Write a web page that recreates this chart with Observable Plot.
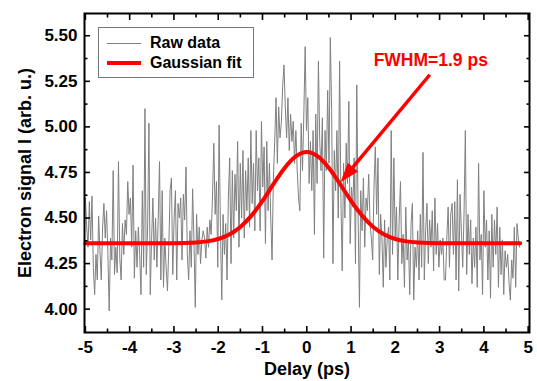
<!DOCTYPE html>
<html>
<head>
<meta charset="utf-8">
<script src="https://cdn.jsdelivr.net/npm/d3@7"></script>
<script src="https://cdn.jsdelivr.net/npm/@observablehq/plot@0.6"></script>
<style>
  html, body { margin: 0; padding: 0; background: #fff; }
  #chart { position: relative; width: 537px; height: 381px; font-family: "Liberation Sans", Arial, sans-serif; }
  #legend { position: absolute; left: 98px; top: 27px; width: 156px; height: 51px; border: 1px solid #777; box-sizing: border-box; background: #fff; }
  #legend .sw { position: absolute; left: 8px; width: 34px; }
  #legend .lb { position: absolute; left: 51px; font-size: 16px; font-weight: bold; line-height: 18px; color: #000; white-space: nowrap; }
</style>
</head>
<body>
<div id="chart"></div>
<script>
// ---- data ----
const xLabel = "Delay (ps)";
const yLabel = "Electron signal I (arb. u.)";
const seriesNames = ["Raw data", "Gaussian fit"];
const xMajorTicks = [-5, -4, -3, -2, -1, 0, 1, 2, 3, 4, 5];
const xMinorTicks = [-4.5, -3.5, -2.5, -1.5, -0.5, 0.5, 1.5, 2.5, 3.5, 4.5];
const yMajorTicks = [4.00, 4.25, 4.50, 4.75, 5.00, 5.25, 5.50];
const yMinorTicks = [4.125, 4.375, 4.625, 4.875, 5.125, 5.375];

// raw scan: first delay and delay step of the measurement grid
const rawDelayStart = -5.0;
const rawDelayStep = 0.0299;
const rawSignal = [
  4.61, 4.45, 4.34, 4.59, 4.38, 4.62, 4.23, 4.08, 4.30, 4.16, 4.51, 4.32, 4.16, 4.45, 4.58, 4.39, 4.54, 4.30, 3.99, 4.39,
  4.27, 4.76, 4.19, 4.34, 4.20, 4.81, 4.28, 4.16, 4.47, 4.30, 4.49, 4.41, 4.70, 4.52, 4.61, 4.34, 4.79, 4.17, 4.43, 4.23,
  4.45, 4.30, 4.08, 4.65, 4.23, 5.10, 4.19, 4.45, 5.02, 4.08, 4.38, 4.61, 4.27, 4.50,
  4.23, 4.49, 4.81, 4.16, 4.65, 4.12, 4.39, 4.23, 4.10, 4.34, 4.65, 4.72, 4.19, 4.49, 4.65, 4.16, 4.58, 4.50, 4.61, 4.27,
  4.63, 4.49, 4.78, 4.30, 4.16, 4.43, 4.23, 4.66, 4.38, 4.01, 4.52, 4.30, 4.45, 4.25, 4.38, 4.43, 4.39, 4.28, 4.45, 4.34,
  4.49, 4.41, 4.61, 4.91, 4.52, 4.70, 4.23, 5.01, 4.45, 4.05, 4.52, 4.30, 4.47, 4.16, 4.61,
  4.83, 4.25, 4.76, 4.39, 4.74, 4.54, 4.92, 4.34, 4.80, 4.50, 4.87, 4.39, 4.76, 4.54, 4.83, 4.45, 4.98, 4.58, 4.80, 4.43,
  4.98, 4.65, 4.83, 4.43, 5.03, 4.67, 4.89, 4.36, 4.92, 4.54, 4.80, 4.50, 4.27, 4.72, 4.92, 5.16, 4.80, 5.11, 4.94, 5.02,
  5.22, 5.34, 5.11, 4.94, 5.16, 4.87, 5.07, 4.92, 5.03, 4.80, 4.98, 4.76, 4.61,
  4.54, 5.02, 4.76, 5.07, 5.44, 4.98, 5.16, 4.69, 4.92, 4.65, 4.98, 4.41, 5.07, 4.69, 5.36, 4.92, 4.76, 5.05, 4.28, 4.98,
  4.76, 5.20, 4.80, 5.49, 5.09, 4.25, 4.87, 4.65, 4.98, 4.50, 5.36, 4.61, 4.21, 4.80, 4.50, 4.91, 4.69, 5.14, 4.36, 4.67,
  4.56, 4.83, 4.25, 5.23, 4.50, 4.01, 4.65, 4.43, 4.72, 4.34, 4.61, 4.54, 4.74, 4.47, 4.39,
  4.27, 4.67, 4.89, 4.52, 4.83, 4.19, 4.52, 4.39, 4.12, 4.49, 4.23, 4.39, 4.45, 4.16, 4.98, 4.30, 4.83, 4.39, 4.56, 4.16,
  4.49, 4.70, 4.25, 4.41, 4.12, 4.56, 4.27, 4.38, 4.08, 4.47, 4.58, 4.05, 4.34, 4.23, 4.43, 4.16, 4.52, 4.23, 4.86, 4.16,
  4.43, 4.58, 4.25, 4.49, 4.34, 4.54, 4.21, 4.61, 4.30, 4.47, 4.23, 4.38, 4.30, 4.39, 4.16,
  4.16, 4.39, 4.56, 4.23, 4.52, 4.58, 4.30, 4.59, 4.16, 4.71, 4.10, 4.63, 4.43, 4.23, 4.52, 4.98, 4.19, 4.52, 4.30, 4.49,
  4.14, 4.39, 4.23, 4.45, 4.12, 4.80, 4.27, 4.41, 4.08, 4.65, 4.34, 4.49, 4.16, 4.43, 4.06, 4.52, 4.23, 4.49, 4.30, 4.56,
  4.12, 4.45, 4.19, 4.38, 4.08, 4.32, 4.23, 4.30, 4.14, 4.05, 4.27, 4.17, 4.45, 4.12, 4.47, 4.39, 4.34
];

// Gaussian fit curve, read at sample delays
const fitDelay  = [-5, -4, -3, -2.5, -2.25, -2, -1.75, -1.5, -1.25, -1, -0.75, -0.5, -0.25, 0, 0.25, 0.5, 0.75, 1, 1.25, 1.5, 1.75, 2, 2.25, 2.5, 3, 4, 4.82];
const fitSignal = [4.362, 4.362, 4.362, 4.366, 4.372, 4.385, 4.410, 4.451, 4.513, 4.594, 4.687, 4.775, 4.838, 4.862, 4.838, 4.775, 4.687, 4.594, 4.513, 4.451, 4.410, 4.385, 4.372, 4.366, 4.362, 4.362, 4.362];

// annotation
const noteText = ["FWHM=1.9 ps"];
const noteAt = [2.80, 5.363];
const arrowFrom = [2.778, 5.286];
const arrowTo = [0.84, 4.72];

// ---- build tables ----
const raw = rawSignal.map((v, i) => ({delay: rawDelayStart + i * rawDelayStep, signal: v}));
const fit = fitDelay.map((d, i) => ({delay: d, signal: fitSignal[i]}));

const FONT = "Liberation Sans, Arial, sans-serif";
const noText = () => "";

const plot = Plot.plot({
  width: 537,
  height: 381,
  marginLeft: 84,
  marginRight: 8,
  marginTop: 13,
  marginBottom: 49,
  style: {fontFamily: FONT, fontSize: "17px", fontWeight: "bold", color: "#000", background: "#fff", overflow: "visible"},
  x: {domain: [-5.02, 5.03]},
  y: {domain: [3.872, 5.622]},
  marks: [
    Plot.line(raw, {x: "delay", y: "signal", stroke: "#808080", strokeWidth: 1}),
    Plot.line(fit, {x: "delay", y: "signal", stroke: "#ff0000", strokeWidth: 4, curve: "monotone-x"}),
    Plot.link([0], {x1: () => arrowFrom[0], y1: () => arrowFrom[1], x2: () => arrowTo[0], y2: () => arrowTo[1], stroke: "#ff0000", strokeWidth: 3.5, className: "fwhm-arrow"}),
    Plot.text(noteText, {x: () => noteAt[0], y: () => noteAt[1], text: d => d, fill: "#ff0000", fontSize: 17.5, fontWeight: "bold", fontFamily: FONT}),
    Plot.frame({stroke: "#000", strokeWidth: 2}),
    // tick labels
    Plot.axisX({ticks: xMajorTicks, tickSize: 0, tickPadding: 8, tickFormat: d => String(d), label: null, fontSize: 17, fontWeight: "bold"}),
    Plot.axisY({ticks: yMajorTicks, tickSize: 0, tickPadding: 7, tickFormat: d3.format(".2f"), label: null, fontSize: 17, fontWeight: "bold"}),
    // inward ticks on all four sides
    Plot.axisX({ticks: xMajorTicks, tickSize: -6, tickFormat: noText, label: null, strokeWidth: 1.6}),
    Plot.axisX({ticks: xMinorTicks, tickSize: -3.5, tickFormat: noText, label: null, strokeWidth: 1.6}),
    Plot.axisX({anchor: "top", ticks: xMajorTicks, tickSize: -6, tickFormat: noText, label: null, strokeWidth: 1.6}),
    Plot.axisX({anchor: "top", ticks: xMinorTicks, tickSize: -3.5, tickFormat: noText, label: null, strokeWidth: 1.6}),
    Plot.axisY({ticks: yMajorTicks, tickSize: -6, tickFormat: noText, label: null, strokeWidth: 1.6}),
    Plot.axisY({ticks: yMinorTicks, tickSize: -3.5, tickFormat: noText, label: null, strokeWidth: 1.6}),
    Plot.axisY({anchor: "right", ticks: yMajorTicks, tickSize: -6, tickFormat: noText, label: null, strokeWidth: 1.6}),
    Plot.axisY({anchor: "right", ticks: yMinorTicks, tickSize: -3.5, tickFormat: noText, label: null, strokeWidth: 1.6}),
    // axis titles
    Plot.text([xLabel], {frameAnchor: "bottom", dy: 42, textAnchor: "middle", text: d => d, fontSize: 18, fontWeight: "bold", fontFamily: FONT, fill: "#000"}),
    Plot.text([yLabel], {frameAnchor: "left", dx: -59, rotate: -90, textAnchor: "middle", text: d => d, fontSize: 18, fontWeight: "bold", fontFamily: FONT, fill: "#000"})
  ]
});

// filled arrow head for the annotation arrow
const svg = d3.select(plot);
const defs = svg.insert("defs", ":first-child");
defs.append("marker")
  .attr("id", "fwhmHead")
  .attr("markerUnits", "userSpaceOnUse")
  .attr("viewBox", "0 0 20 20")
  .attr("markerWidth", 20)
  .attr("markerHeight", 20)
  .attr("refX", 14)
  .attr("refY", 10)
  .attr("orient", "auto")
  .append("path")
  .attr("d", "M0,3.3 L19.5,10 L0,16.7 Z")
  .attr("fill", "#ff0000");
svg.selectAll(".fwhm-arrow path, .fwhm-arrow line").attr("marker-end", "url(#fwhmHead)");

const root = document.getElementById("chart");
root.appendChild(plot);

// legend
const legend = document.createElement("div");
legend.id = "legend";
legend.innerHTML =
  `<div class="sw" style="top:14.5px;height:1px;background:#808080"></div>` +
  `<div class="lb" style="top:6px">${seriesNames[0]}</div>` +
  `<div class="sw" style="top:33px;height:4px;background:#ff0000"></div>` +
  `<div class="lb" style="top:26px">${seriesNames[1]}</div>`;
root.appendChild(legend);
</script>
</body>
</html>
